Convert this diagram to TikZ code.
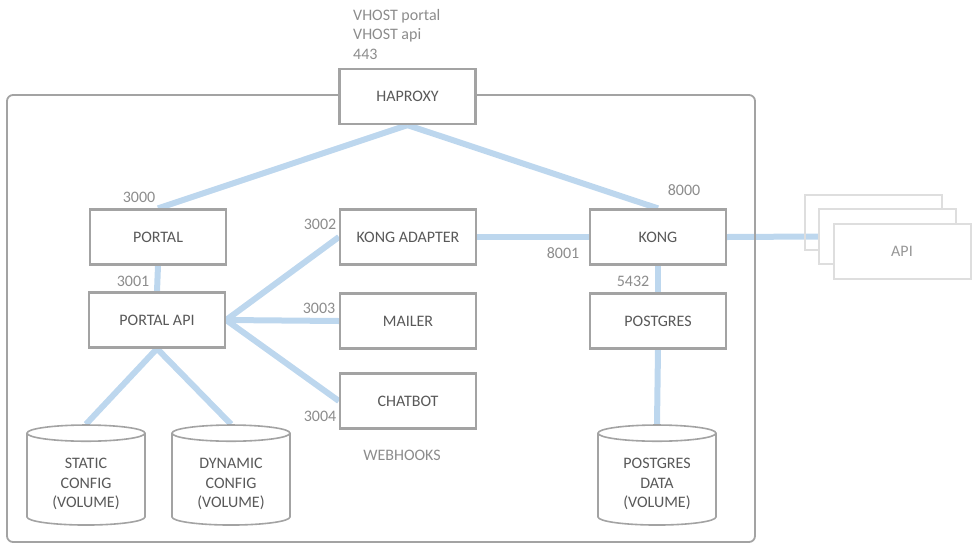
\documentclass[tikz,border=0pt]{standalone}
\usepackage{fontspec}
\setmainfont{Carlito}
\usetikzlibrary{shapes.geometric,backgrounds}
\definecolor{wireblue}{RGB}{189,215,238}
\definecolor{frame}{RGB}{163,163,163}
\definecolor{lbl}{RGB}{89,89,89}
\definecolor{port}{RGB}{140,140,140}
\definecolor{ghost}{RGB}{222,222,222}
\def\bw{136pt}
\def\bh{55pt}
\tikzstyle{box}=[rectangle,draw=frame,line width=2.2pt,fill=white,text=lbl,minimum width=\bw,minimum height=\bh,inner sep=0pt]
\tikzstyle{vol}=[cylinder,shape border rotate=90,aspect=0.27,draw=frame,line width=1.6pt,fill=white,minimum width=118pt,minimum height=100pt,inner xsep=30pt,inner ysep=0pt]
\tikzstyle{voltext}=[text=lbl,align=center,yshift=-1pt]
\tikzstyle{apibox}=[rectangle,draw=ghost,line width=2pt,minimum width=137pt,minimum height=55pt,text=port!90,inner sep=0pt]
\tikzstyle{num}=[text=port,inner sep=0pt]
\tikzstyle{wire}=[draw=wireblue,line width=6pt]

\begin{document}
\begin{tikzpicture}[x=1pt,y=-1pt,font=\fontsize{16}{19.5}\selectfont]
			\useasboundingbox (0,0) rectangle (978,547);
			\draw[frame,line width=1.8pt,rounded corners=6pt] (7,95) rectangle (755,542);
			% services
			\node[box](haproxy) at (407.5,96.5){HAPROXY};
			\node[box](portal) at (158,237){PORTAL};
			\node[box](portalapi) at (157,320){PORTAL API};
			\node[box](adapter) at (408,237){KONG ADAPTER};
			\node[box](mailer) at (408,321){MAILER};
			\node[box](chatbot) at (408,401){CHATBOT};
			\node[box](kong) at (658,237){KONG};
			\node[box](postgres) at (658,321){POSTGRES};
			% volumes
			\node[vol,label={[voltext]center:STATIC\\CONFIG\\(VOLUME)}](static) at (86,483){};
			\node[vol,label={[voltext]center:DYNAMIC\\CONFIG\\(VOLUME)}](dynamic) at (231,483){};
			\node[vol,label={[voltext]center:POSTGRES\\DATA\\(VOLUME)}](pgdata) at (657,483){};
			% upstream apis
			\node[apibox](apiback) at (873,222.5){};
			\node[apibox,fill=white](apimid) at (887.5,236.5){};
			\node[apibox,fill=white](api) at (902,251.5){API};
			% ports
			\node[num,anchor=north west,align=left](vhost) at (353,9){VHOST portal\\VHOST api\\443};
			\node[num](p3000) at (139,197){3000};
			\node[num](p3001) at (133,281){3001};
			\node[num](p3002) at (320,224){3002};
			\node[num](p3003) at (319,308){3003};
			\node[num](p3004) at (320,416){3004};
			\node[num](p8001) at (563,253){8001};
			\node[num](p8000) at (684,190){8000};
			\node[num](p5432) at (633,281){5432};
			\node[num](webhooks) at (402,455){WEBHOOKS};
			\begin{scope}[on background layer]
			\draw[wire](haproxy.south)--(portal.north);
			\draw[wire](haproxy.south)--(kong.north);
			\draw[wire](portal.south)--(portalapi.north);
			\draw[wire](portalapi.east)--(adapter.west);
			\draw[wire](portalapi.east)--(mailer.west);
			\draw[wire](portalapi.east)--(chatbot.west);
			\draw[wire](portalapi.south)--(static.north);
			\draw[wire](portalapi.south)--(dynamic.north);
			\draw[wire](adapter.east)--(kong.west);
			\draw[wire](kong.east)--(apimid.west);
			\draw[wire](kong.south)--(postgres.north);
			\draw[wire](postgres.south)--(pgdata.north);
			\end{scope}
		\end{tikzpicture}
\end{document}
